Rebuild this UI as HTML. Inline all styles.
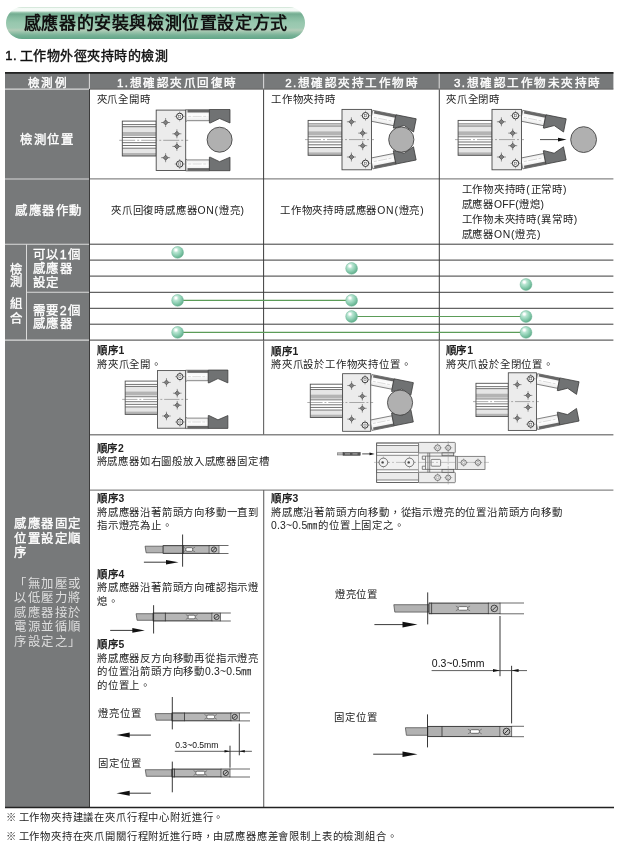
<!DOCTYPE html>
<html lang="zh-TW">
<head>
<meta charset="utf-8">
<title>感應器的安裝與檢測位置設定方式</title>
<style>
html,body{margin:0;padding:0;background:#fff;}
body{width:620px;height:849px;position:relative;overflow:hidden;font-family:"Liberation Sans",sans-serif;color:#1a1a1a;}
.a{position:absolute;white-space:nowrap;}
.banner{left:5.5px;top:7px;width:299.5px;height:32px;border-radius:16px;
 background:linear-gradient(to bottom,#c8e0cf 0%,#f6fbf8 5%,#f2f8f4 12%,#8dbfa5 18%,#74ad92 22%,#88bda2 35%,#98c8af 50%,#9ecab2 65%,#b3cdb9 72%,#9cc4ac 78%,#78b297 88%,#62a688 100%);}
.title{left:23.9px;top:10.7px;height:26px;line-height:26px;font-size:17px;font-weight:bold;letter-spacing:0.6px;color:#111;}
.h1{left:5.2px;top:46px;height:20px;line-height:20px;font-size:13px;letter-spacing:0.5px;word-spacing:-1.2px;-webkit-text-stroke:0.45px #111;color:#111;}
.th{color:#fff;-webkit-text-stroke:0.4px #fff;font-size:11.6px;letter-spacing:1.5px;text-align:center;height:17px;line-height:17px;top:74px;text-indent:1.5px;}
.lab{color:#fff;-webkit-text-stroke:0.35px #fff;font-size:12.4px;letter-spacing:1.5px;line-height:14.6px;}
.lab2{color:#dedede;font-weight:normal;font-size:12.4px;letter-spacing:1.5px;line-height:14.6px;}
.t{font-size:10.4px;letter-spacing:0.8px;line-height:13.6px;color:#222;}
.b{font-weight:bold;letter-spacing:0.7px;}
.l{letter-spacing:0.2px;}
.fn{font-size:10.3px;letter-spacing:0.83px;word-spacing:-2.2px;color:#222;line-height:12px;}
svg{position:absolute;left:0;top:0;}
</style>
</head>
<body>
<svg width="620" height="849" viewBox="0 0 620 849" style="will-change:transform">
<defs>
<radialGradient id="ball" cx="0.36" cy="0.30" r="0.72">
 <stop offset="0" stop-color="#ffffff"/>
 <stop offset="0.1" stop-color="#ffffff"/>
 <stop offset="0.3" stop-color="#b9e5d2"/>
 <stop offset="0.6" stop-color="#90d1b5"/>
 <stop offset="1" stop-color="#5fad8a"/>
</radialGradient>
<linearGradient id="armg" x1="0" y1="0" x2="0" y2="1">
 <stop offset="0" stop-color="#e9e9e9"/><stop offset="0.5" stop-color="#ffffff"/><stop offset="1" stop-color="#e4e4e4"/>
</linearGradient>
<g id="dia"><path d="M-4.5 0H4.5M0 -4.5V4.5" stroke="#444" stroke-width="0.55" fill="none"/><path d="M0 -2.5L2.5 0L0 2.5L-2.5 0Z" fill="#808080" stroke="#444" stroke-width="0.7"/></g>
<g id="piv"><path d="M-5 0H5M0 -5V5" stroke="#555" stroke-width="0.5" fill="none"/><circle r="3.2" fill="#f4f4f4" stroke="#333" stroke-width="1"/><rect x="-1.1" y="-1.1" width="2.2" height="2.2" fill="none" stroke="#555" stroke-width="0.5"/></g>
<g id="base">
 <rect x="-33.9" y="-19.2" width="33.9" height="34.9" fill="#fff"/>
 <rect x="-33.9" y="-13.4" width="33.9" height="5.2" fill="#e6e6e6"/>
 <rect x="-33.9" y="-8.3" width="33.9" height="4.2" fill="#b4b4b4"/>
 <rect x="-33.9" y="8.2" width="33.9" height="4.6" fill="#e6e6e6"/>
 <rect x="-33.9" y="12.7" width="33.9" height="3" fill="#b4b4b4"/>
 <path d="M-33.9 -15.7H0M-33.9 -13.6H0M-33.9 -2.8H0M-33.9 2.4H0M-33.9 5.2H0M-33.9 7.9H0" stroke="#4a4a4a" stroke-width="0.8" fill="none"/>
 <rect x="-33.9" y="-19.2" width="33.9" height="34.9" fill="none" stroke="#4a4a4a" stroke-width="0.9"/>
 <rect x="0" y="-30.2" width="29.5" height="60.4" fill="#ececec" stroke="#4a4a4a" stroke-width="0.9"/>
 <path d="M-37 0H32" stroke="#666" stroke-width="0.55" stroke-dasharray="16 2 2 2" fill="none"/>
 <use href="#dia" x="9.4" y="-17.8"/><use href="#dia" x="20.7" y="-6.5"/><use href="#dia" x="20.7" y="6.1"/><use href="#dia" x="9.4" y="17.4"/>
 <use href="#piv" x="23.5" y="-23.9"/><use href="#piv" x="23.5" y="23.7"/>
</g>
<g id="armU">
 <path d="M29.5 -30.6H53.2V-19.6H31L29.5 -18.6Z" fill="url(#armg)" stroke="#555" stroke-width="0.7"/>
 <rect x="31.3" y="-30.6" width="21.9" height="2.8" fill="#666"/>
 <path d="M32 -23.9H52" stroke="#b5b5b5" stroke-width="0.45" stroke-dasharray="3 1.5 9 1.5"/>
 <path d="M53.2 -30.8H73.8V-17.3L63.4 -21.8L54 -17.3H53.2Z" fill="#707273" stroke="#383838" stroke-width="0.75"/>
</g>
<g id="armL">
 <path d="M29.5 30.6H53.2V19.6H31L29.5 18.6Z" fill="url(#armg)" stroke="#555" stroke-width="0.7"/>
 <rect x="31.3" y="27.8" width="21.9" height="2.8" fill="#666"/>
 <path d="M32 23.7H52" stroke="#b5b5b5" stroke-width="0.45" stroke-dasharray="3 1.5 9 1.5"/>
 <path d="M53.2 30.4H73.8V16.9L63.4 21.4L54 16.9H53.2Z" fill="#707273" stroke="#383838" stroke-width="0.75"/>
</g>
<g id="gopen"><use href="#armU"/><use href="#armL"/><use href="#base"/></g>
<g id="gclose"><use href="#armU" transform="rotate(11.3 23.5 -23.9)"/><use href="#armL" transform="rotate(-11.3 23.5 23.7)"/><use href="#base"/></g>
</defs>
<rect x="5" y="72.2" width="608.4" height="17" fill="#77797a"/>
<rect x="5" y="72.2" width="84.4" height="735.3" fill="#77797a"/>
<rect x="5" y="72" width="608.4" height="1.8" fill="#222"/>
<g stroke="#dadada" stroke-width="1.05" fill="none">
<path d="M89.4 73.8V88.7M263.6 73.8V88.7M439.2 73.8V88.7"/>
<path d="M5 89.1H89M5 178.9H89M5 244.2H89M5 340.1H89M27 292.3H89"/>
<path d="M26.5 244.2V340.1"/>
</g>
<path d="M90 89.1H613.4" stroke="#666" stroke-width="1" fill="none"/>
<g stroke="#3c3c3c" stroke-width="1" fill="none">
<path d="M90 244.2H613.4M90 260.1H613.4M90 276.1H613.4M90 292.3H613.4M90 308.3H613.4M90 324.2H613.4M90 340.1H613.4"/>
</g>
<g stroke="#878787" stroke-width="1.4" fill="none">
<path d="M90 178.9H613.4M90 434.8H613.4M90 490.1H613.4"/>
</g>
<g stroke="#3c3c3c" stroke-width="1" fill="none">
<path d="M89.5 89V807M263.6 89.5V340.1M439.3 89.5V340.1"/>
</g>
<g stroke="#6a6a6a" stroke-width="1.15" fill="none">
<path d="M263.6 340.1V434.8M263.7 490.1V807M439.3 340.1V434.8"/>
</g>
<path d="M5 807.5H614" stroke="#222" stroke-width="1.5" fill="none"/>
<g stroke="#5b9c58" stroke-width="1.2" fill="none">
<path d="M177.6 300.4H351.6M351.6 316.5H526.0M177.6 332.4H526.0"/>
</g>
<circle cx="177.6" cy="252.4" r="5.9" fill="url(#ball)" stroke="#6fb596" stroke-width="0.5"/>
<circle cx="351.6" cy="268.4" r="5.9" fill="url(#ball)" stroke="#6fb596" stroke-width="0.5"/>
<circle cx="526.0" cy="284.5" r="5.9" fill="url(#ball)" stroke="#6fb596" stroke-width="0.5"/>
<circle cx="177.6" cy="300.4" r="5.9" fill="url(#ball)" stroke="#6fb596" stroke-width="0.5"/>
<circle cx="351.6" cy="300.4" r="5.9" fill="url(#ball)" stroke="#6fb596" stroke-width="0.5"/>
<circle cx="351.6" cy="316.5" r="5.9" fill="url(#ball)" stroke="#6fb596" stroke-width="0.5"/>
<circle cx="526.0" cy="316.5" r="5.9" fill="url(#ball)" stroke="#6fb596" stroke-width="0.5"/>
<circle cx="177.6" cy="332.4" r="5.9" fill="url(#ball)" stroke="#6fb596" stroke-width="0.5"/>
<circle cx="526.0" cy="332.4" r="5.9" fill="url(#ball)" stroke="#6fb596" stroke-width="0.5"/>
<g transform="translate(156.2 140.3) scale(1)">
<use href="#gopen"/>
<circle cx="63.4" cy="-0.6" r="12.5" fill="#b0b0b0" stroke="#444" stroke-width="0.9"/>
</g>
<g transform="translate(342 139.6) scale(1)">
<use href="#gclose"/>
<circle cx="59.3" cy="0" r="12.6" fill="#b0b0b0" stroke="#444" stroke-width="0.9"/>
</g>
<g transform="translate(492 139.6) scale(1)">
<use href="#gclose"/>
<circle cx="91.6" cy="0" r="12.9" fill="#b0b0b0" stroke="#444" stroke-width="0.9"/>
<path d="M48 0H67" stroke="#222" stroke-width="0.8"/><path d="M74.6 0L66 -1.9V1.9Z" fill="#111"/>
</g>
<g transform="translate(157.5 399.4) scale(0.954)">
<use href="#gopen"/>
</g>
<g transform="translate(342.6 402.5) scale(0.954)">
<use href="#gclose"/>
<circle cx="60.2" cy="0.2" r="13.2" fill="#b0b0b0" stroke="#444" stroke-width="0.9"/>
</g>
<g transform="translate(508.3 401.6) scale(0.954)">
<use href="#gclose"/>
</g><g stroke="#555" stroke-width="0.7" fill="none">
<rect x="337.3" y="452.8" width="6" height="2.2" fill="#bbb" stroke="#666" stroke-width="0.5"/>
<rect x="343" y="452.5" width="17.2" height="2.8" fill="#555" stroke="#333" stroke-width="0.5"/>
<path d="M345 453.9H350M352.5 453.9H357.5" stroke="#bbb" stroke-width="0.9"/>
<path d="M362.2 453.9H371" stroke="#222" stroke-width="0.8"/><path d="M374.7 453.9L369.5 452.5V455.3Z" fill="#111" stroke="none"/>
<rect x="376.7" y="443" width="42" height="39.6" fill="#fff"/>
<rect x="376.7" y="445.5" width="42" height="6.9" fill="#ebebeb" stroke="none"/>
<rect x="376.7" y="455.3" width="42" height="14.5" fill="#f1f1f1" stroke="none"/>
<rect x="376.7" y="472.5" width="42" height="7.5" fill="#ebebeb" stroke="none"/>
<path d="M376.7 445.5H418.7M376.7 452.4H418.7M376.7 455.3H418.7M376.7 469.8H418.7M376.7 472.5H418.7M376.7 480H418.7"/>
<rect x="376.7" y="443" width="42" height="39.6"/>
<rect x="418.6" y="442.4" width="36.7" height="40.3" fill="#f3f3f3" stroke="none"/>
<rect x="418.6" y="442.4" width="36.7" height="10.5" rx="0.8" fill="#ececec"/>
<rect x="418.6" y="472.3" width="36.7" height="10.4" rx="0.8" fill="#ececec"/>
<rect x="455.7" y="456.3" width="29.3" height="13.1" fill="#ececec"/>
<path d="M427.9 452.9V472.3M429.7 452.9V472.3"/>
<path d="M455.7 456.1H422.3V459.3H425.5V466.2H422.3V469.4H455.7"/>
<path d="M425.5 456.1V459.3M425.5 466.2V469.4"/>
<rect x="431.1" y="459.4" width="9.5" height="6.8" rx="0.8"/>
<rect x="442" y="452.9" width="11.7" height="2.8" fill="#e0e0e0"/>
<rect x="442" y="469.6" width="11.7" height="2.7" fill="#e0e0e0"/>
<path d="M457.3 456.3V469.4"/>
</g>
<path d="M374 462.4H489" stroke="#888" stroke-width="0.45" stroke-dasharray="16 2 2 2" fill="none"/>
<path d="M448.2 441V484.5" stroke="#888" stroke-width="0.45" stroke-dasharray="8 1.5 1.5 1.5" fill="none"/>
<path d="M377.49999999999994 462.4H389.3M383.4 456.49999999999994V468.3" stroke="#777" stroke-width="0.4" fill="none"/>
<circle cx="383.4" cy="462.4" r="4.3" fill="#f2f2f2" stroke="#444" stroke-width="0.7"/>
<circle cx="382.59999999999997" cy="462.4" r="1.2" fill="#444"/>
<path d="M403.59999999999997 462.4H415.40000000000003M409.5 456.49999999999994V468.3" stroke="#777" stroke-width="0.4" fill="none"/>
<circle cx="409.5" cy="462.4" r="4.3" fill="#f2f2f2" stroke="#444" stroke-width="0.7"/>
<circle cx="408.7" cy="462.4" r="1.2" fill="#444"/>
<path d="M433.1 447.8H442.1M437.6 443.3V452.3" stroke="#777" stroke-width="0.4" fill="none"/>
<circle cx="437.6" cy="447.8" r="2.9" fill="#f2f2f2" stroke="#444" stroke-width="0.7"/>
<circle cx="437.6" cy="447.8" r="1.30" fill="none" stroke="#666" stroke-width="0.4"/>
<path d="M444.09999999999997 447.8H452.3M448.2 443.7V451.90000000000003" stroke="#777" stroke-width="0.4" fill="none"/>
<circle cx="448.2" cy="447.8" r="2.5" fill="#f2f2f2" stroke="#444" stroke-width="0.7"/>
<circle cx="448.2" cy="447.8" r="1.12" fill="none" stroke="#666" stroke-width="0.4"/>
<path d="M433.1 477.6H442.1M437.6 473.1V482.1" stroke="#777" stroke-width="0.4" fill="none"/>
<circle cx="437.6" cy="477.6" r="2.9" fill="#f2f2f2" stroke="#444" stroke-width="0.7"/>
<circle cx="437.6" cy="477.6" r="1.30" fill="none" stroke="#666" stroke-width="0.4"/>
<path d="M444.09999999999997 477.6H452.3M448.2 473.5V481.70000000000005" stroke="#777" stroke-width="0.4" fill="none"/>
<circle cx="448.2" cy="477.6" r="2.5" fill="#f2f2f2" stroke="#444" stroke-width="0.7"/>
<circle cx="448.2" cy="477.6" r="1.12" fill="none" stroke="#666" stroke-width="0.4"/>
<path d="M459.4 462.6H468.0M463.7 458.3V466.90000000000003" stroke="#777" stroke-width="0.4" fill="none"/>
<circle cx="463.7" cy="462.6" r="2.7" fill="#f2f2f2" stroke="#444" stroke-width="0.7"/>
<circle cx="463.7" cy="462.6" r="1.22" fill="none" stroke="#666" stroke-width="0.4"/>
<path d="M473.7 462.6H482.3M478 458.3V466.90000000000003" stroke="#777" stroke-width="0.4" fill="none"/>
<circle cx="478" cy="462.6" r="2.7" fill="#f2f2f2" stroke="#444" stroke-width="0.7"/>
<circle cx="478" cy="462.6" r="1.22" fill="none" stroke="#666" stroke-width="0.4"/>
<path d="M218.9 545.5H228.5M218.9 553.5H228.5" stroke="#444" stroke-width="0.8" fill="none"/>
<path d="M163.2 546.2H145.1L146.1 552.8H163.2Z" fill="#b2b2b2" stroke="#444" stroke-width="0.7"/>
<rect x="163.2" y="545.2" width="55.7" height="8.6" fill="#b6b6b6"/>
<rect x="163.2" y="545.2" width="20.2" height="8.6" fill="#b0b0b0"/>
<path d="M163.2 545.6500000000001H218.9M163.2 553.3499999999999H218.9" stroke="#3a3a3a" stroke-width="0.95" fill="none"/>
<path d="M163.2 545.2V553.8M183.4 545.2V553.8M209.2 545.2V553.8M218.9 545.2V553.8" stroke="#333" stroke-width="0.8" fill="none"/>
<path d="M183.4 547.1L185.8 548.5M183.4 551.9L185.8 550.5M195.1 547.1L192.7 548.5M195.1 551.9L192.7 550.5" stroke="#555" stroke-width="0.6" fill="none"/>
<rect x="185.8" y="547.7" width="6.9" height="3.6" rx="1.3" fill="#fff" stroke="#444" stroke-width="0.7"/>
<rect x="209.6" y="546.1" width="8.9" height="6.8" fill="#c4c4c4"/>
<circle cx="214" cy="549.5" r="2.6" fill="#c0c0c0" stroke="#222" stroke-width="0.8"/>
<path d="M212.39 551.11L215.61 547.89" stroke="#222" stroke-width="0.9"/>
<path d="M182.6 534.5V566.7" stroke="#222" stroke-width="0.9" fill="none"/>
<path d="M143.9 562.2H167.0" stroke="#222" stroke-width="0.9" fill="none"/><path d="M178.5 562.2L166.0 559.9000000000001V564.5Z" fill="#111"/>
<path d="M220.3 613.0H230.8M220.3 621.0H230.8" stroke="#444" stroke-width="0.8" fill="none"/>
<path d="M153.2 613.7H136.1L137.1 620.3H153.2Z" fill="#b2b2b2" stroke="#444" stroke-width="0.7"/>
<rect x="153.2" y="612.7" width="67.1" height="8.6" fill="#b6b6b6"/>
<rect x="153.2" y="612.7" width="12.2" height="8.6" fill="#b0b0b0"/>
<path d="M153.2 613.1500000000001H220.3M153.2 620.8499999999999H220.3" stroke="#3a3a3a" stroke-width="0.95" fill="none"/>
<path d="M153.2 612.7V621.3M165.4 612.7V621.3M212 612.7V621.3M220.3 612.7V621.3" stroke="#333" stroke-width="0.8" fill="none"/>
<path d="M185.79999999999998 614.6L188.2 616M185.79999999999998 619.4L188.2 618M197.6 614.6L195.2 616M197.6 619.4L195.2 618" stroke="#555" stroke-width="0.6" fill="none"/>
<rect x="188.2" y="615.2" width="7.0" height="3.6" rx="1.3" fill="#fff" stroke="#444" stroke-width="0.7"/>
<rect x="212.4" y="613.6" width="7.5" height="6.8" fill="#c4c4c4"/>
<circle cx="216.6" cy="617" r="2.6" fill="#c0c0c0" stroke="#222" stroke-width="0.8"/>
<path d="M214.99 618.61L218.21 615.39" stroke="#222" stroke-width="0.9"/>
<path d="M153.6 605.2V633.5" stroke="#222" stroke-width="0.9" fill="none"/>
<path d="M110.2 630.4H133.3" stroke="#222" stroke-width="0.9" fill="none"/><path d="M144.8 630.4L132.3 628.1V632.6999999999999Z" fill="#111"/>
<path d="M239.3 712.9H250M239.3 720.9H250" stroke="#444" stroke-width="0.8" fill="none"/>
<path d="M172 713.6H155.1L156.1 720.1999999999999H172Z" fill="#b2b2b2" stroke="#444" stroke-width="0.7"/>
<rect x="172" y="712.6" width="67.3" height="8.6" fill="#b6b6b6"/>
<rect x="172" y="712.6" width="12.5" height="8.6" fill="#b0b0b0"/>
<path d="M172 713.0500000000001H239.3M172 720.7499999999999H239.3" stroke="#3a3a3a" stroke-width="0.95" fill="none"/>
<path d="M172 712.6V721.1999999999999M184.5 712.6V721.1999999999999M231 712.6V721.1999999999999M239.3 712.6V721.1999999999999" stroke="#333" stroke-width="0.8" fill="none"/>
<path d="M204.4 714.5L206.8 715.9M204.4 719.3L206.8 717.9M216.9 714.5L214.5 715.9M216.9 719.3L214.5 717.9" stroke="#555" stroke-width="0.6" fill="none"/>
<rect x="206.8" y="715.1" width="7.7" height="3.6" rx="1.3" fill="#fff" stroke="#444" stroke-width="0.7"/>
<rect x="231.4" y="713.5" width="7.5" height="6.8" fill="#c4c4c4"/>
<circle cx="234.8" cy="716.9" r="2.6" fill="#c0c0c0" stroke="#222" stroke-width="0.8"/>
<path d="M233.19 718.51L236.41 715.29" stroke="#222" stroke-width="0.9"/>
<path d="M172.3 697V729.4" stroke="#222" stroke-width="0.9" fill="none"/>
<path d="M128.7 735.1H150.9" stroke="#222" stroke-width="0.9" fill="none"/><path d="M116.5 735.1L129.7 732.6V737.6Z" fill="#111"/>
<path d="M229.9 769.0H250M229.9 777.0H250" stroke="#444" stroke-width="0.8" fill="none"/>
<path d="M172 769.7H145.29999999999998L146.29999999999998 776.3H172Z" fill="#b2b2b2" stroke="#444" stroke-width="0.7"/>
<rect x="172" y="768.7" width="57.9" height="8.6" fill="#b6b6b6"/>
<rect x="172" y="768.7" width="2.5" height="8.6" fill="#b0b0b0"/>
<path d="M172 769.1500000000001H229.9M172 776.8499999999999H229.9" stroke="#3a3a3a" stroke-width="0.95" fill="none"/>
<path d="M172 768.7V777.3M174.5 768.7V777.3M221.1 768.7V777.3M229.9 768.7V777.3" stroke="#333" stroke-width="0.8" fill="none"/>
<path d="M193.5 770.6L195.9 772M193.5 775.4L195.9 774M207.1 770.6L204.7 772M207.1 775.4L204.7 774" stroke="#555" stroke-width="0.6" fill="none"/>
<rect x="195.9" y="771.2" width="8.8" height="3.6" rx="1.3" fill="#fff" stroke="#444" stroke-width="0.7"/>
<rect x="221.5" y="769.6" width="8.0" height="6.8" fill="#c4c4c4"/>
<circle cx="225.8" cy="773" r="2.6" fill="#c0c0c0" stroke="#222" stroke-width="0.8"/>
<path d="M224.19 774.61L227.41 771.39" stroke="#222" stroke-width="0.9"/>
<path d="M172.3 761.6V792.3" stroke="#222" stroke-width="0.9" fill="none"/>
<path d="M128.7 793.2H150.9" stroke="#222" stroke-width="0.9" fill="none"/><path d="M116.5 793.2L129.7 790.7V795.7Z" fill="#111"/>
<path d="M239.3 723.6V755.3" stroke="#222" stroke-width="0.9" fill="none"/>
<path d="M230 745.7V767.7" stroke="#222" stroke-width="0.9" fill="none"/>
<path d="M174.8 751.3H251.9" stroke="#333" stroke-width="0.8" fill="none"/>
<path d="M230 751.3L224.5 750V752.6ZM239.3 751.3L244.8 750V752.6Z" fill="#111"/>
<path d="M500 602.9999999999999H524M500 613.8000000000001H524" stroke="#444" stroke-width="0.8" fill="none"/>
<path d="M429 604.6999999999999H393.8L394.8 612.1H429Z" fill="#b2b2b2" stroke="#444" stroke-width="0.7"/>
<rect x="429" y="602.6999999999999" width="71.0" height="11.4" fill="#b6b6b6"/>
<rect x="429" y="602.6999999999999" width="2.6" height="11.4" fill="#b0b0b0"/>
<path d="M429 603.15H500M429 613.65H500" stroke="#3a3a3a" stroke-width="0.95" fill="none"/>
<path d="M429 602.6999999999999V614.1M431.6 602.6999999999999V614.1M488.4 602.6999999999999V614.1M500 602.6999999999999V614.1" stroke="#333" stroke-width="0.8" fill="none"/>
<path d="M455.8 606.0L458.2 607.4M455.8 610.8L458.2 609.4M470.09999999999997 606.0L467.7 607.4M470.09999999999997 610.8L467.7 609.4" stroke="#555" stroke-width="0.6" fill="none"/>
<rect x="458.2" y="606.6" width="9.5" height="3.6" rx="1.3" fill="#fff" stroke="#444" stroke-width="0.7"/>
<rect x="488.79999999999995" y="603.5999999999999" width="10.8" height="9.6" fill="#c4c4c4"/>
<circle cx="494.3" cy="608.4" r="3.3" fill="#c0c0c0" stroke="#222" stroke-width="0.8"/>
<path d="M492.25 610.45L496.35 606.35" stroke="#222" stroke-width="0.9"/>
<path d="M427.7 592.4V624.4" stroke="#222" stroke-width="0.9" fill="none"/>
<path d="M374.4 624.6H403.5" stroke="#222" stroke-width="0.9" fill="none"/><path d="M417.5 624.6L402.5 621.8000000000001V627.4Z" fill="#111"/>
<path d="M511.6 726.3H524M511.6 736.7H524" stroke="#444" stroke-width="0.8" fill="none"/>
<path d="M427.7 727.7H405.40000000000003L406.40000000000003 735.3H427.7Z" fill="#b2b2b2" stroke="#444" stroke-width="0.7"/>
<rect x="427.7" y="726.0" width="83.9" height="11" fill="#b6b6b6"/>
<rect x="427.7" y="726.0" width="14.3" height="11" fill="#b0b0b0"/>
<path d="M427.7 726.45H511.6M427.7 736.55H511.6" stroke="#3a3a3a" stroke-width="0.95" fill="none"/>
<path d="M427.7 726.0V737.0M442 726.0V737.0M500 726.0V737.0M511.6 726.0V737.0" stroke="#333" stroke-width="0.8" fill="none"/>
<path d="M467.90000000000003 729.1L470.3 730.5M467.90000000000003 733.9L470.3 732.5M481.79999999999995 729.1L479.4 730.5M481.79999999999995 733.9L479.4 732.5" stroke="#555" stroke-width="0.6" fill="none"/>
<rect x="470.3" y="729.7" width="9.1" height="3.6" rx="1.3" fill="#fff" stroke="#444" stroke-width="0.7"/>
<rect x="500.4" y="726.9" width="10.8" height="9.2" fill="#c4c4c4"/>
<circle cx="506.5" cy="731.5" r="3.3" fill="#c0c0c0" stroke="#222" stroke-width="0.8"/>
<path d="M504.45 733.55L508.55 729.45" stroke="#222" stroke-width="0.9"/>
<path d="M427.5 714.4V747.4" stroke="#222" stroke-width="0.9" fill="none"/>
<path d="M373.2 754.2H403.5" stroke="#222" stroke-width="0.9" fill="none"/><path d="M417.5 754.2L402.5 751.4000000000001V757.0Z" fill="#111"/>
<path d="M500 616V676.2" stroke="#222" stroke-width="0.9" fill="none"/>
<path d="M511.6 665.8V723.4" stroke="#222" stroke-width="0.9" fill="none"/>
<path d="M431.6 670.6H527" stroke="#333" stroke-width="0.8" fill="none"/>
<path d="M500 670.6L493 669.1V672.1ZM511.6 670.6L518.6 669.1V672.1Z" fill="#111"/>
<text x="175.2" y="748.3" font-family="Liberation Sans, sans-serif" font-size="8.6" fill="#111">0.3~0.5mm</text>
<text x="431.8" y="667.3" font-family="Liberation Sans, sans-serif" font-size="10.5" fill="#111">0.3~0.5mm</text>
</svg><div id="txt" style="position:absolute;left:0;top:0;width:620px;height:849px;will-change:transform;">
<!-- banner & headings -->
<div class="a banner"></div>
<div class="a title">感應器的安裝與檢測位置設定方式</div>
<div class="a h1">1. 工作物外徑夾持時的檢測</div>

<!-- header text -->
<div class="a th" style="left:5px;width:84px;">檢測例</div>
<div class="a th" style="left:90px;width:173px;">1.想確認夾爪回復時</div>
<div class="a th" style="left:264px;width:175px;">2.想確認夾持工作物時</div>
<div class="a th" style="left:440px;width:174px;">3.想確認工作物未夾持時</div>

<!-- left labels -->
<div class="a lab" style="left:20.2px;top:132.5px;letter-spacing:1.6px;">檢測位置</div>
<div class="a lab" style="left:15px;top:204.2px;letter-spacing:1.5px;">感應器作動</div>
<div class="a lab" style="left:10px;top:262.5px;">檢</div>
<div class="a lab" style="left:10px;top:275px;">測</div>
<div class="a lab" style="left:10px;top:296.5px;">組</div>
<div class="a lab" style="left:10px;top:311.8px;">合</div>
<div class="a lab" style="left:32.5px;top:247.7px;line-height:14.1px;letter-spacing:1.6px;">可以1個<br>感應器<br>設定</div>
<div class="a lab" style="left:32.5px;top:304.6px;line-height:13.4px;letter-spacing:1.6px;">需要2個<br>感應器</div>
<div class="a lab" style="left:14.2px;top:517px;">感應器固定<br>位置設定順<br>序</div>
<div class="a lab2" style="left:14.2px;top:576.5px;">「無加壓或<br>以低壓力將<br>感應器接於<br>電源並循順<br>序設定之」</div>

<!-- row 1 captions -->
<div class="a t" style="left:96.6px;top:92.5px;">夾爪全開時</div>
<div class="a t" style="left:271px;top:92.5px;">工作物夾持時</div>
<div class="a t" style="left:446px;top:92.5px;">夾爪全閉時</div>

<!-- row 2 -->
<div class="a t" style="left:111px;top:204px;">夾爪回復時感應器ON(燈亮)</div>
<div class="a t" style="left:280px;top:204px;">工作物夾持時感應器ON(燈亮)</div>
<div class="a t" style="left:461.5px;top:181.5px;line-height:15.3px;">工作物夾持時(正常時)<br>感應器<span class="l">OFF(</span>燈熄)<br>工作物未夾持時(異常時)<br>感應器ON(燈亮)</div>

<!-- steps -->
<div class="a t" style="left:97px;top:344.3px;"><span class="b">順序1</span><br>將夾爪全開。</div>
<div class="a t" style="left:271px;top:344.7px;line-height:13.8px;"><span class="b">順序1</span><br>將夾爪設於工作物夾持位置。</div>
<div class="a t" style="left:445.8px;top:344.2px;"><span class="b">順序1</span><br>將夾爪設於全閉位置。</div>
<div class="a t" style="left:96.6px;top:441.5px;"><span class="b">順序2</span><br>將感應器如右圖般放入感應器固定槽</div>
<div class="a t" style="left:97px;top:492.3px;line-height:13.45px;"><span class="b">順序3</span><br>將感應器沿著箭頭方向移動一直到<br>指示燈亮為止。</div>
<div class="a t" style="left:97px;top:567.7px;"><span class="b">順序4</span><br>將感應器沿著箭頭方向確認指示燈<br>熄。</div>
<div class="a t" style="left:97px;top:637.8px;line-height:13.7px;"><span class="b">順序5</span><br>將感應器反方向移動再從指示燈亮<br>的位置沿箭頭方向移動<span class="l">0.3~0.5</span>㎜<br>的位置上。</div>
<div class="a t" style="left:271px;top:492.3px;line-height:13.5px;"><span class="b">順序3</span><br>將感應沿著箭頭方向移動，從指示燈亮的位置沿箭頭方向移動<br><span class="l">0.3~0.5</span>㎜的位置上固定之。</div>

<div class="a t" style="left:98.2px;top:706.6px;">燈亮位置</div>
<div class="a t" style="left:98.2px;top:757.4px;">固定位置</div>
<div class="a t" style="left:334.9px;top:587.8px;">燈亮位置</div>
<div class="a t" style="left:334.2px;top:711.3px;">固定位置</div>

<!-- footnotes -->
<div class="a fn" style="left:6.2px;top:811.9px;">※ 工作物夾持建議在夾爪行程中心附近進行。</div>
<div class="a fn" style="left:6.2px;top:830.6px;">※ 工作物夾持在夾爪開關行程附近進行時，由感應器應差會限制上表的檢測組合。</div>
</div>
</body>
</html>
